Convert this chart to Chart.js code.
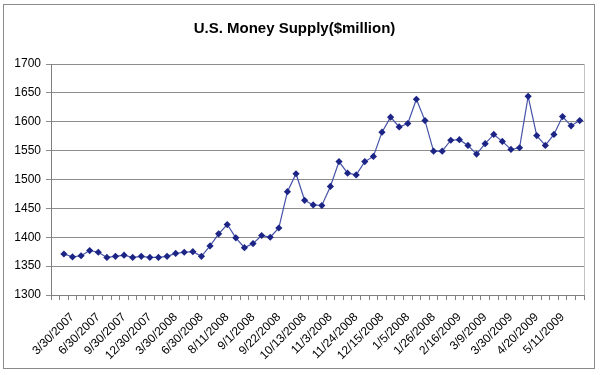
<!DOCTYPE html>
<html>
<head>
<meta charset="utf-8">
<script src="https://cdn.jsdelivr.net/npm/chart.js@4/dist/chart.umd.min.js"></script>
<style>
  body { margin: 0; background: #fff; }
  #wrap { position: relative; width: 600px; height: 375px; }
  #frame { position: absolute; left: 3px; top: 4px; width: 590px; height: 363px; border: 1px solid #8a8a8a; pointer-events: none; }
  canvas { position: absolute; left: 0; top: 0; }
</style>
</head>
<body>
<div id="wrap">
  <canvas id="moneyChart" width="600" height="375"></canvas>
  <div id="frame"></div>
</div>
<script>
// weekly / monthly M1 readings, $ million
const moneySupply = [
  1371, 1366, 1368, 1377, 1374, 1365, 1367, 1369, 1365, 1367, 1365, 1365, 1367, 1372, 1374, 1375,
  1367, 1385, 1406, 1422, 1399, 1382, 1389, 1403, 1400, 1416, 1479, 1510, 1464, 1456, 1455,
  1488, 1531, 1511, 1508, 1531, 1540, 1582, 1608, 1591, 1597, 1639, 1602, 1549, 1549, 1568, 1569,
  1559, 1544, 1562, 1578, 1566, 1552, 1555, 1644, 1576, 1559, 1578, 1609, 1593, 1602
];

// only every third category carries a label
const tickLabels = [
  '3/30/2007', '6/30/2007', '9/30/2007', '12/30/2007', '3/30/2008', '6/30/2008',
  '8/11/2008', '9/1/2008', '9/22/2008', '10/13/2008', '11/3/2008', '11/24/2008',
  '12/15/2008', '1/5/2008', '1/26/2008', '2/16/2009', '3/9/2009', '3/30/2009',
  '4/20/2009', '5/11/2009'
];

const yTicks = [1300, 1350, 1400, 1450, 1500, 1550, 1600, 1650, 1700];

// first category is empty in the source sheet
const categories = new Array(moneySupply.length + 1).fill('');
tickLabels.forEach((t, k) => { categories[2 + 3 * k] = t; });
const series = [null].concat(moneySupply);

const plotFrame = {
  id: 'plotFrame',
  afterDatasetsDraw(chart) {
    const a = chart.chartArea, c = chart.ctx;
    c.save();
    c.strokeStyle = '#c4c4c4';
    c.lineWidth = 1;
    c.beginPath();
    c.moveTo(Math.round(a.right) + 0.5, a.top);
    c.lineTo(Math.round(a.right) + 0.5, a.bottom);
    c.stroke();
    c.restore();
  }
};

const font = "'Liberation Sans', Arial, sans-serif";

new Chart(document.getElementById('moneyChart').getContext('2d'), {
  type: 'line',
  data: {
    labels: categories,
    datasets: [{
      label: 'Money Supply',
      data: series,
      borderColor: '#4652a8',
      borderWidth: 1.2,
      pointStyle: 'rectRot',
      pointRadius: 3.6,
      pointBackgroundColor: '#1c2586',
      pointBorderColor: '#1c2586',
      pointBorderWidth: 0,
      tension: 0,
      spanGaps: false
    }]
  },
  options: {
    responsive: false,
    animation: false,
    layout: { padding: { left: 0, right: 11, top: 0, bottom: 0 } },
    plugins: {
      legend: { display: false },
      tooltip: { enabled: false },
      title: {
        display: true,
        text: 'U.S. Money Supply($million)',
        color: '#000',
        font: { family: font, size: 15, weight: 'bold' },
        padding: { top: 20, bottom: 26 }
      }
    },
    scales: {
      x: {
        offset: true,
        grid: { offset: true, drawOnChartArea: false, drawTicks: true, tickLength: 5, color: '#808080' },
        border: { color: '#808080', width: 1 },
        ticks: {
          autoSkip: false,
          minRotation: 45,
          maxRotation: 45,
          color: '#000',
          padding: 10,
          font: { family: font, size: 12 }
        },
        afterFit(scale) { scale.height = 80; }
      },
      y: {
        min: 1300,
        max: 1700,
        afterBuildTicks(scale) { scale.ticks = yTicks.map(v => ({ value: v })); },
        grid: { color: '#8c8c8c', tickLength: 5, lineWidth: 1 },
        border: { color: '#808080', width: 1 },
        ticks: {
          color: '#000',
          padding: 5,
          font: { family: font, size: 12 },
          callback: v => String(v)
        },
        afterFit(scale) { scale.width = 51; }
      }
    }
  },
  plugins: [plotFrame]
});
</script>
</body>
</html>
